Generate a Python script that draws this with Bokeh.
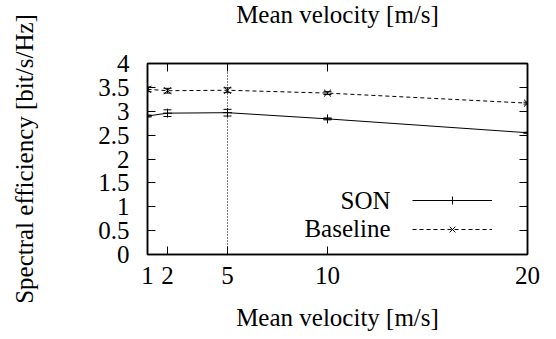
from bokeh.plotting import figure
from bokeh.models import (ColumnDataSource, Range1d, FixedTicker, LinearAxis, Span,
                          Whisker, TeeHead, Label, Legend, LegendItem, CustomJSTickFormatter)
from bokeh.core.properties import value
from bokeh.embed import file_html
from bokeh.resources import INLINE

# ---- data ----
velocity = [1, 2, 5, 10, 20]
son = [2.90, 2.96, 2.97, 2.84, 2.55]
son_err = [0.02, 0.07, 0.07, 0.02, 0.01]
baseline = [3.46, 3.43, 3.44, 3.38, 3.17]
baseline_err = [0.05, 0.05, 0.05, 0.03, 0.02]
x_ticks = [1, 2, 5, 10, 20]
x_tick_labels = ["1", "2", "5", "10", "20"]
y_ticks = [0, 0.5, 1, 1.5, 2, 2.5, 3, 3.5, 4]
y_tick_labels = ["0", "0.5", "1", "1.5", "2", "2.5", "3", "3.5", "4"]
highlight_velocity = 5
series_names = ["SON", "Baseline"]
x_title = "Mean velocity [m/s]"
y_title = "Spectral efficiency [bit/s/Hz]"

FONT = "serif"
FS = "25px"

src = ColumnDataSource(dict(
    x=velocity,
    son=son,
    son_lo=[v - e for v, e in zip(son, son_err)],
    son_hi=[v + e for v, e in zip(son, son_err)],
    base=baseline,
    base_lo=[v - e for v, e in zip(baseline, baseline_err)],
    base_hi=[v + e for v, e in zip(baseline, baseline_err)],
))

p = figure(width=556, height=339, x_range=Range1d(1, 20), y_range=Range1d(0, 4),
           output_backend="svg", toolbar_location=None,
           x_axis_location=None, y_axis_location=None,
           min_border_left=147, min_border_right=29, min_border_top=63, min_border_bottom=85)
p.xgrid.visible = False
p.ygrid.visible = False
p.outline_line_color = "black"
p.outline_line_width = 1.5
p.background_fill_color = "white"
p.border_fill_color = "white"


def style_axis(ax, labels_visible):
    ax.major_tick_in = 8
    ax.major_tick_out = 0
    ax.minor_tick_line_color = None
    ax.axis_line_color = "black"
    ax.axis_line_width = 1.5
    ax.major_tick_line_color = "black"
    ax.major_tick_line_width = 1
    ax.major_label_text_font = FONT
    ax.major_label_text_font_size = FS
    ax.major_label_text_color = "black"
    ax.axis_label_text_font = FONT
    ax.axis_label_text_font_size = FS
    ax.axis_label_text_font_style = "normal"
    ax.axis_label_text_color = "black"
    if not labels_visible:
        ax.formatter = CustomJSTickFormatter(code="return ''")
        ax.major_label_standoff = 0


xb = LinearAxis(ticker=FixedTicker(ticks=x_ticks), axis_label=x_title)
style_axis(xb, True)
xb.major_label_overrides = dict(zip(x_ticks, x_tick_labels))
xb.major_label_standoff = 12
xb.axis_label_standoff = 17
p.add_layout(xb, "below")

xt = LinearAxis(ticker=FixedTicker(ticks=x_ticks))
style_axis(xt, False)
p.add_layout(xt, "above")

yl = LinearAxis(ticker=FixedTicker(ticks=y_ticks), axis_label=y_title)
style_axis(yl, True)
yl.major_label_overrides = dict(zip(y_ticks, y_tick_labels))
yl.major_label_standoff = 18
yl.axis_label_standoff = 57
p.add_layout(yl, "left")

yr = LinearAxis(ticker=FixedTicker(ticks=y_ticks))
style_axis(yr, False)
p.add_layout(yr, "right")

# dotted reference line
p.add_layout(Span(location=highlight_velocity, dimension="height", line_color="black",
                  line_width=1, line_dash="1 2"))

# error bars
for lo, hi in (("son_lo", "son_hi"), ("base_lo", "base_hi")):
    p.add_layout(Whisker(source=src, base="x", lower=lo, upper=hi, dimension="height",
                         line_color="black", line_width=1,
                         upper_head=TeeHead(size=8, line_color="black", line_width=1),
                         lower_head=TeeHead(size=8, line_color="black", line_width=1)))

son_line = p.line("x", "son", source=src, line_color="black", line_width=1)
son_pts = p.scatter("x", "son", source=src, marker="cross", size=9, line_color="black", line_width=1)
base_line = p.line("x", "base", source=src, line_color="black", line_width=1, line_dash="4 3")
base_pts = p.scatter("x", "base", source=src, marker="x", size=10, line_color="black", line_width=1)

legend = Legend(items=[LegendItem(label=value(""), renderers=[son_line, son_pts]),
                       LegendItem(label=value(""), renderers=[base_line, base_pts])],
                location=(265, 15), glyph_width=80, glyph_height=20, label_width=0,
                label_height=20, label_standoff=0, spacing=9, padding=0, margin=0,
                border_line_color=None, background_fill_alpha=0, label_text_font_size="1px")
p.add_layout(legend)

# legend texts (to the left of the samples, as in the reference)
p.add_layout(Label(x=243, y=53.7, x_units="screen", y_units="screen", text=series_names[0],
                   text_align="right", text_baseline="alphabetic", text_font=FONT,
                   text_font_size=FS, text_color="black"))
p.add_layout(Label(x=243, y=26, x_units="screen", y_units="screen", text=series_names[1],
                   text_align="right", text_baseline="alphabetic", text_font=FONT,
                   text_font_size=FS, text_color="black"))
# top axis title
p.add_layout(Label(x=190, y=49, x_units="screen", y_units="screen", text=x_title,
                   text_align="center", text_baseline="alphabetic", text_font=FONT,
                   text_font_size=FS, text_color="black"), "above")

open("out.html", "w").write(file_html(p, INLINE))
